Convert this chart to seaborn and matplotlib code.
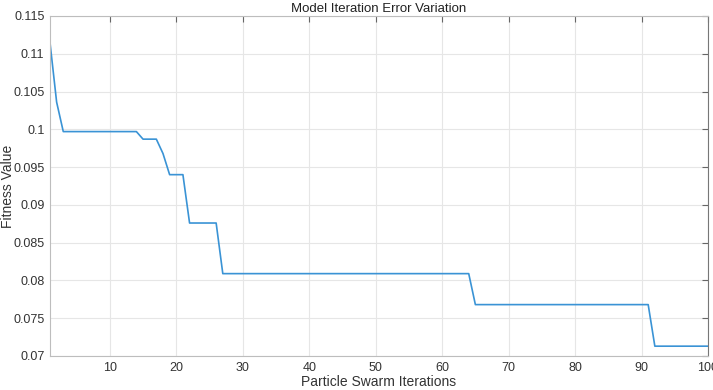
import seaborn as sns
import matplotlib.pyplot as plt
import pandas as pd

# Best fitness value at each particle swarm iteration
iterations = list(range(1, 101))
fitness = ([0.1115, 0.1036] + [0.0997] * 12 + [0.0987] * 3 + [0.0968]
           + [0.0940] * 3 + [0.0876] * 5 + [0.0809] * 38 + [0.0768] * 27
           + [0.0713] * 9)

df = pd.DataFrame({'iter': iterations, 'fitness': fitness})

sns.set_style('whitegrid')
plt.rcParams['font.family'] = ['Liberation Sans', 'DejaVu Sans']

fig = plt.figure(figsize=(7.13, 3.9), dpi=100)
ax = fig.add_axes([0.0701, 0.0872, 0.9229, 0.8718])
sns.lineplot(data=df, x='iter', y='fitness', color='#3A93D5', linewidth=1.2, ax=ax)

ax.set_xlim(1, 100)
ax.set_ylim(0.07, 0.115)
ax.set_xticks(range(10, 101, 10))
ax.set_yticks([0.07, 0.075, 0.08, 0.085, 0.09, 0.095, 0.1, 0.105, 0.11, 0.115])
ax.set_yticklabels(['0.07', '0.075', '0.08', '0.085', '0.09', '0.095', '0.1',
                    '0.105', '0.11', '0.115'])
ax.grid(True, color='#e6e6e6', linewidth=0.8)
for s in ax.spines.values():
    s.set_visible(True)
    s.set_color('#bdbdbd')
    s.set_linewidth(0.8)
ax.spines['right'].set_color('#777777')
ax.tick_params(direction='in', length=4, color='#666666', labelsize=9,
               labelcolor='#333333', pad=4, top=True, right=True)
ax.tick_params(axis='x', labeltop=False)
ax.tick_params(axis='y', labelright=False)

ax.set_xlabel('Particle Swarm Iterations', fontsize=10, color='#333333', labelpad=1)
ax.set_ylabel('Fitness Value', fontsize=10, color='#333333')
ax.yaxis.set_label_coords(-0.053, 0.5)
ax.set_title('Model Iteration Error Variation', fontsize=9.5, color='#222222', pad=3)

fig.savefig('out.png', dpi=100)
